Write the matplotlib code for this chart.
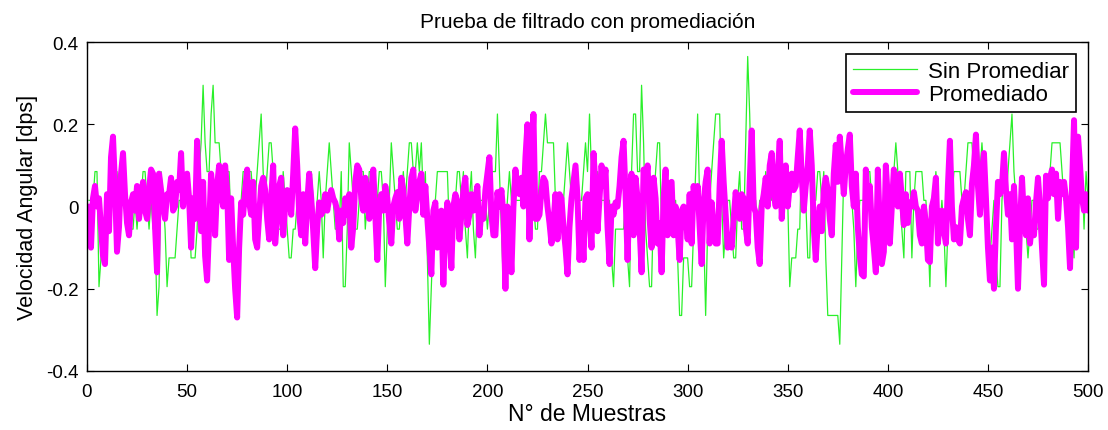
import numpy as np
import matplotlib
matplotlib.use("Agg")
import matplotlib.pyplot as plt

plt.rcParams['font.family'] = ['Liberation Sans', 'DejaVu Sans']

# raw gyro counts (sin promediar), one count = 0.07 dps, small offset
raw_counts = [
    0, 0, 0, 1, 1, -3, -2, -1, -1, -1,
    0, 0, 1, 1, 1, 0, 0, 0, 0, 0,
    0, -1, -1, 0, -1, 0, 0, 1, 1, 0,
    -1, 0, -1, -1, -4, -3, 1, 0, -1, -3,
    -2, -2, -2, -2, -1, 0, 0, 1, 0, 1,
    0, -2, -2, -2, -1, 1, 2, 4, 2, 1,
    1, 3, 4, 2, 2, 2, 1, 0, 1, 1,
    1, -1, -2, -4, -4, -2, 0, 1, 1, 0,
    1, 1, 0, 0, 1, 2, 3, 1, 0, 1,
    2, 2, 1, 0, -1, -1, -1, 1, 0, -1,
    -2, -2, -1, -1, 0, 0, -1, 0, -1, 0,
    0, 1, 0, -1, 0, 1, 0, -2, 0, 1,
    2, 1, 0, -1, -1, -1, 1, -3, -3, -1,
    2, 1, 0, -1, -1, 0, 1, 1, -1, 0,
    1, 1, 0, -1, 0, 1, 1, 0, -3, -1,
    0, 2, 1, 0, -1, -1, 0, 1, 0, 1,
    2, 2, 1, 1, 2, 1, 2, 0, 1, -2,
    -5, -3, -1, 0, 1, 1, 1, 1, 1, 1,
    -1, -1, 0, 0, 1, 1, 0, 1, -1, -2,
    0, 1, -1, -2, 0, 0, 0, 0, 0, -1,
    0, 1, 1, 1, 3, 1, -1, -3, -1, 0,
    1, 0, 1, 0, 0, 0, 0, 0, 0, 0,
    -1, 0, 0, -1, -1, 1, 1, 2, 3, 2,
    2, 2, 2, 0, 0, -1, -1, 0, 1, 2,
    1, 0, 0, 1, 1, 0, 0, 1, 2, 1,
    3, 1, 0, -1, 1, 0, 0, 0, 0, 0,
    0, -2, -3, -1, -1, -1, -1, -1, 0, -2,
    -3, 1, 3, 3, 1, 1, 4, 2, -1, -2,
    -3, -3, 0, 1, 2, 2, -1, 0, 1, 0,
    -1, -1, -1, 0, -2, -4, -4, -2, -2, -2,
    -3, -3, -1, 1, 3, 0, -2, -1, -4, -1,
    0, 1, 2, 3, 3, 3, 0, -2, -1, 0,
    0, -1, -2, -2, 0, 1, -1, -1, 2, 5,
    3, 0, 0, 0, -1, 0, 0, 0, 1, 0,
    1, 0, 1, 1, 1, 0, 1, 1, 0, 0,
    -3, -2, -2, -2, -1, -1, 2, 1, 0, -2,
    -2, 1, 0, 0, 1, 1, 0, 1, -2, -4,
    -4, -4, -4, -4, -4, -5, -2, 1, 1, 1,
    1, 0, -1, -3, -1, 0, 0, 0, 1, 1,
    1, 0, -1, 0, 1, -1, -2, 0, 1, 0,
    -1, 0, 1, 2, 1, 0, -1, -2, 1, 1,
    1, -2, 0, 1, 1, 1, 1, 0, 0, -1,
    -3, 0, 0, 1, 0, -1, 0, -1, -3, -1,
    0, 0, 1, 1, 1, 1, 0, 0, 1, 2,
    2, 2, 1, 1, 2, 1, 2, 1, 0, -1,
    -2, -1, 0, -2, -3, -3, 0, 1, 0, 1,
    2, 3, 1, 0, -1, 0, 0, -1, -1, -2,
    -1, 0, 0, -1, -1, 0, -1, 0, 0, 0,
    1, 2, 2, 2, 2, 2, 1, 0, 0, -1,
    0, -1, -2, 1, 2, 0, 1, -1, 1, 0,
]
dps_per_count = 0.07
offset = 0.015

promediado = [
    0.0, -0.10, 0.02, 0.05, 0.0, 0.02, -0.05, -0.12, -0.14, 0.03,
    -0.06, 0.12, 0.17, 0.05, -0.11, -0.05, 0.08, 0.13, 0.03, -0.04,
    -0.07, 0.01, 0.03, -0.01, 0.05, -0.03, 0.02, 0.06, -0.01, -0.03,
    0.04, 0.09, 0.08, -0.05, -0.16, 0.08, 0.04, 0.0, -0.03, 0.03,
    0.03, 0.07, -0.01, 0.0, 0.06, 0.04, 0.13, 0.0, 0.05, 0.08,
    0.02, -0.10, 0.02, -0.03, 0.16, 0.02, -0.06, 0.06, -0.12, -0.18,
    -0.05, 0.08, 0.03, -0.07, 0.05, 0.10, 0.03, 0.0, 0.10, 0.04,
    -0.13, 0.02, -0.10, -0.20, -0.27, -0.10, 0.01, -0.02, 0.04, 0.09,
    0.01, -0.02, 0.06, -0.08, -0.10, -0.02, 0.05, 0.07, 0.04, -0.03,
    -0.08, 0.02, 0.10, -0.09, -0.03, 0.05, 0.07, -0.07, 0.0, 0.04,
    0.03, -0.02, 0.08, 0.19, 0.10, -0.02, -0.07, 0.03, -0.09, 0.01,
    0.08, 0.02, -0.06, -0.15, -0.05, 0.01, -0.02, -0.01, 0.03, -0.01,
    0.02, 0.04, 0.02, 0.01, -0.01, -0.08, -0.01, -0.04, 0.02, -0.02,
    0.03, -0.10, -0.05, 0.06, 0.10, 0.09, 0.02, -0.01, 0.07, 0.03,
    -0.03, 0.04, 0.09, -0.02, -0.13, 0.0, 0.03, -0.01, 0.05, 0.02,
    -0.04, -0.09, 0.0, 0.02, 0.035, -0.03, 0.07, 0.04, -0.02, -0.09,
    0.0, 0.07, 0.09, -0.01, 0.03, 0.06, 0.08, -0.02, 0.05, -0.03,
    -0.10, -0.165, -0.01, 0.01, -0.10, -0.03, -0.01, -0.19, -0.05, 0.01,
    -0.06, -0.15, 0.0, 0.03, 0.01, -0.08, -0.02, 0.04, 0.07, -0.045,
    -0.02, 0.03, -0.01, 0.02, 0.05, -0.07, -0.01, -0.03, 0.04, 0.08,
    0.12, -0.02, -0.07, -0.07, 0.035, 0.0, 0.04, -0.02, -0.20, 0.0,
    -0.05, -0.16, 0.0, 0.09, 0.04, 0.03, 0.07, 0.0, 0.12, 0.20,
    -0.08, 0.10, 0.225, -0.03, -0.03, -0.02, 0.04, 0.07, 0.06, 0.0,
    -0.04, -0.09, -0.04, 0.03, -0.08, 0.03, 0.02, -0.05, -0.10, -0.165,
    -0.05, 0.02, 0.06, 0.10, 0.02, -0.13, -0.04, -0.13, 0.02, 0.03,
    -0.02, -0.10, 0.13, 0.05, -0.06, 0.02, 0.10, 0.05, 0.09, -0.05,
    -0.14, 0.0, -0.02, 0.01, 0.0, 0.05, 0.12, 0.16, 0.03, -0.13,
    0.04, 0.08, -0.07, 0.07, 0.02, -0.05, -0.16, 0.09, 0.05, 0.10,
    -0.03, -0.10, 0.07, 0.02, -0.09, -0.04, -0.16, 0.02, 0.09, -0.07,
    0.055, 0.06, -0.07, 0.0, -0.05, -0.13, -0.01, 0.0, -0.02, -0.08,
    0.03, -0.09, 0.05, 0.0, 0.05, -0.05, -0.14, 0.01, 0.06, 0.09,
    -0.09, 0.01, -0.05, -0.09, -0.09, 0.05, 0.16, 0.06, -0.02, -0.10,
    -0.08, -0.10, -0.03, 0.035, -0.01, -0.03, 0.03, 0.02, -0.05, -0.09,
    0.06, 0.185, 0.0, -0.015, -0.10, -0.14, 0.0, 0.03, 0.07, 0.0,
    0.10, 0.13, 0.03, 0.0, 0.08, 0.16, -0.03, 0.06, 0.10, 0.0,
    0.05, 0.08, 0.04, 0.05, 0.12, 0.185, 0.07, -0.01, 0.05, 0.10,
    0.185, 0.10, -0.05, -0.13, -0.04, 0.0, -0.06, 0.04, 0.07, 0.04,
    -0.03, -0.07, 0.08, 0.15, 0.06, 0.17, 0.10, 0.03, 0.10, 0.14,
    0.175, 0.05, 0.0, 0.08, -0.05, -0.12, -0.165, -0.17, 0.09, 0.02,
    0.05, -0.05, -0.10, -0.16, 0.09, -0.05, -0.14, -0.11, 0.10, 0.02,
    -0.09, 0.0, 0.09, 0.03, 0.0, 0.08, 0.02, -0.045, 0.03, -0.04,
    0.01, 0.0, 0.035, 0.0, -0.01, -0.07, -0.09, 0.0, -0.04, -0.13,
    -0.135, 0.0, 0.02, 0.07, -0.09, -0.03, -0.01, -0.06, -0.09, 0.05,
    0.16, 0.0, -0.08, -0.05, -0.08, -0.09, 0.0, 0.02, 0.035, -0.03,
    -0.07, 0.055, 0.10, 0.175, 0.05, -0.02, 0.08, 0.13, 0.02, -0.10,
    -0.18, -0.10, -0.20, -0.05, 0.06, 0.03, 0.05, 0.13, 0.04, -0.02,
    0.03, -0.08, 0.05, -0.05, -0.20, -0.05, 0.07, -0.03, -0.07, 0.02,
    -0.09, -0.04, -0.07, 0.01, 0.07, 0.0, -0.10, -0.19, 0.075, 0.02,
    0.07, 0.09, 0.03, 0.08, -0.03, 0.06, 0.03, 0.06, 0.02, -0.05,
    -0.15, 0.05, 0.21, -0.10, 0.17, 0.10, 0.02, -0.01, 0.03, -0.01,
]

x_ticks = [0, 50, 100, 150, 200, 250, 300, 350, 400, 450, 500]
y_ticks = [-0.4, -0.2, 0, 0.2, 0.4]
y_tick_labels = ['-0.4', '-0.2', '0', '0.2', '0.4']

muestras = np.arange(1, len(promediado) + 1)
sin_promediar = np.array(raw_counts) * dps_per_count + offset

fig = plt.figure(figsize=(11.08, 4.31), dpi=100)
ax = fig.add_axes([0.0785, 0.137, 0.9035, 0.763])

ax.plot(muestras, sin_promediar, color='#2af02a', linewidth=0.9, label='Sin Promediar')
ax.plot(muestras, promediado, color='#ff00ff', linewidth=4.3, label='Promediado',
        solid_joinstyle='round', solid_capstyle='round')

ax.set_xlim(0, 500)
ax.set_ylim(-0.4, 0.4)
ax.set_xticks(x_ticks)
ax.set_yticks(y_ticks)
ax.set_yticklabels(y_tick_labels)
ax.tick_params(direction='in', top=True, right=True, length=5, width=0.8,
               labelsize=13.5, pad=6)
ax.tick_params(axis='x', pad=9)
for s in ax.spines.values():
    s.set_linewidth(1.0)

ax.set_title('Prueba de filtrado con promediación', fontsize=15, pad=11)
ax.set_xlabel('N° de Muestras', fontsize=16.5, labelpad=1)
ax.set_ylabel('Velocidad Angular [dps]', fontsize=15.5, labelpad=6)

leg = ax.legend(loc='upper right', fontsize=16, fancybox=False, framealpha=1,
                edgecolor='black', borderpad=0.3, handlelength=2.9,
                handletextpad=0.5, labelspacing=0.1, borderaxespad=0.55)
leg.get_frame().set_linewidth(1.2)

fig.savefig('out.png', dpi=100)
